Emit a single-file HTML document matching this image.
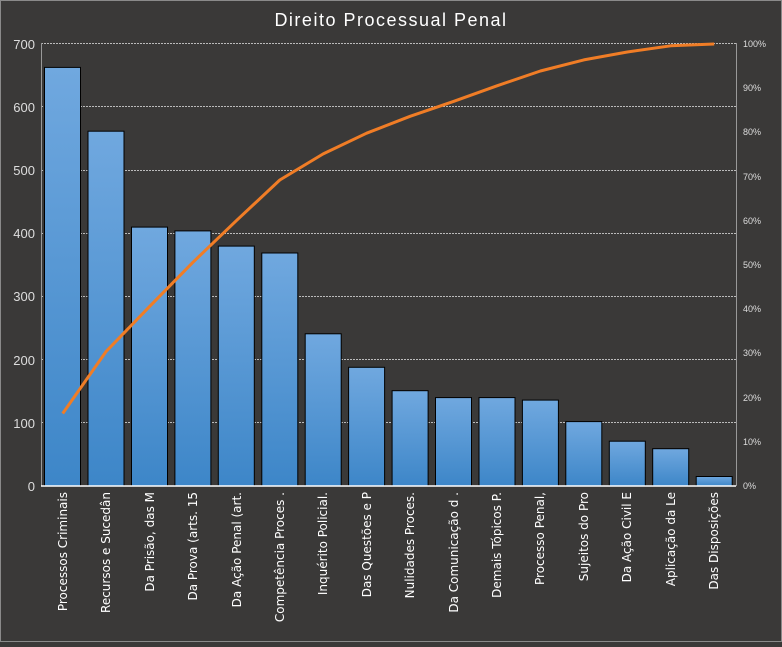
<!DOCTYPE html><html><head><style>body{margin:0;background:#3a3938}</style></head><body>
<svg width="782" height="642" xmlns="http://www.w3.org/2000/svg" font-family="Liberation Sans, DejaVu Sans, sans-serif">
<defs><linearGradient id="g" x1="0" y1="0" x2="0" y2="1"><stop offset="0" stop-color="#70a8df"/><stop offset="1" stop-color="#3d86c8"/></linearGradient></defs>
<rect x="0.5" y="0.5" width="781" height="641" fill="#3a3938" stroke="#8a8a8a"/>
<text x="391" y="26" fill="#fff" font-size="18" text-anchor="middle" letter-spacing="1.5">Direito Processual Penal</text>
<g stroke="#bbb" stroke-dasharray="2,1" stroke-width="1">
<line x1="41" x2="736" y1="43.5" y2="43.5"/><line x1="41" x2="736" y1="106.5" y2="106.5"/><line x1="41" x2="736" y1="170.5" y2="170.5"/><line x1="41" x2="736" y1="233.5" y2="233.5"/><line x1="41" x2="736" y1="296.5" y2="296.5"/><line x1="41" x2="736" y1="359.5" y2="359.5"/><line x1="41" x2="736" y1="422.5" y2="422.5"/></g>
<line x1="41.5" x2="41.5" y1="43" y2="486" stroke="#999"/><line x1="736.5" x2="736.5" y1="43" y2="486" stroke="#999"/>
<g fill="#ddd" font-size="13" text-anchor="end">
<text x="35" y="49">700</text><text x="35" y="112">600</text><text x="35" y="175">500</text><text x="35" y="238">400</text><text x="35" y="301">300</text><text x="35" y="365">200</text><text x="35" y="428">100</text><text x="35" y="491">0</text></g>
<g fill="#ddd" font-size="9">
<text x="743" y="47">100%</text><text x="743" y="91">90%</text><text x="743" y="135">80%</text><text x="743" y="180">70%</text><text x="743" y="224">60%</text><text x="743" y="268">50%</text><text x="743" y="312">40%</text><text x="743" y="356">30%</text><text x="743" y="401">20%</text><text x="743" y="445">10%</text><text x="743" y="489">0%</text></g>
<g fill="url(#g)" stroke="#000" stroke-width="1">
<rect x="44.5" y="67.4" width="36" height="418.6"/>
<rect x="88" y="131.2" width="36" height="354.8"/>
<rect x="131.5" y="227.1" width="36" height="258.9"/>
<rect x="174.9" y="230.9" width="36" height="255.1"/>
<rect x="218.3" y="246.1" width="36" height="239.9"/>
<rect x="261.8" y="253" width="36" height="233"/>
<rect x="305.2" y="333.8" width="36" height="152.2"/>
<rect x="348.6" y="367.3" width="36" height="118.7"/>
<rect x="392.1" y="390.7" width="36" height="95.3"/>
<rect x="435.5" y="397.6" width="36" height="88.4"/>
<rect x="479" y="397.6" width="36" height="88.4"/>
<rect x="522.4" y="400.1" width="36" height="85.9"/>
<rect x="565.8" y="421.6" width="36" height="64.4"/>
<rect x="609.3" y="441.2" width="36" height="44.8"/>
<rect x="652.7" y="448.7" width="36" height="37.3"/>
<rect x="696.2" y="476.5" width="36" height="9.5"/></g>
<line x1="41" x2="736" y1="486" y2="486" stroke="#fff" stroke-width="1.5"/>
<polyline fill="none" stroke="#f07d26" stroke-width="3" stroke-linejoin="round" points="62.7,413.5 106,351.6 149.5,306.6 192.9,262.3 236.3,220.7 279.8,180 323.2,153.9 366.6,133.2 410.1,116.3 453.5,101.4 497,85.8 540.4,71 583.8,59.9 627.3,52 670.7,45.8 714.2,44"/>
<g fill="#fff" font-size="12" text-anchor="end" font-family="DejaVu Sans, sans-serif">
<text transform="translate(67,492) rotate(-90)">Processos Criminais</text>
<text transform="translate(110,492) rotate(-90)">Recursos e Sucedân</text>
<text transform="translate(154,492) rotate(-90)">Da Prisão, das M</text>
<text transform="translate(197,492) rotate(-90)">Da Prova (arts. 15</text>
<text transform="translate(241,492) rotate(-90)">Da Ação Penal (art.</text>
<text transform="translate(284,492) rotate(-90)">Competência Proces .</text>
<text transform="translate(327,492) rotate(-90)">Inquérito Policial.</text>
<text transform="translate(371,492) rotate(-90)">Das Questões e P</text>
<text transform="translate(414,492) rotate(-90)">Nulidades Proces.</text>
<text transform="translate(458,492) rotate(-90)">Da Comunicação d .</text>
<text transform="translate(501,492) rotate(-90)">Demais Tópicos P.</text>
<text transform="translate(544,492) rotate(-90)">Processo Penal,</text>
<text transform="translate(588,492) rotate(-90)">Sujeitos do Pro</text>
<text transform="translate(631,492) rotate(-90)">Da Ação Civil E</text>
<text transform="translate(675,492) rotate(-90)">Aplicação da Le</text>
<text transform="translate(718,492) rotate(-90)">Das Disposições</text></g>
</svg></body></html>
